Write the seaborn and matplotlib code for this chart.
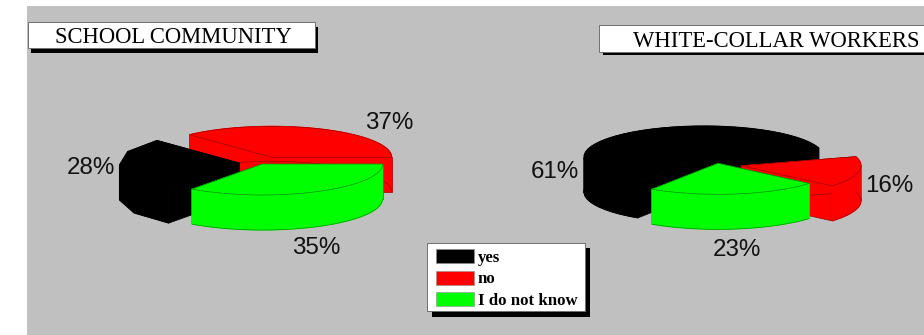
import numpy as np
import matplotlib
matplotlib.use("Agg")
import matplotlib.pyplot as plt
from matplotlib.patches import Rectangle, Polygon
import seaborn as sns

CATEGORIES = ["yes", "no", "I do not know"]
SCHOOL_VALUES = [28, 37, 35]
WHITE_COLLAR_VALUES = [61, 16, 23]
SCHOOL_TITLE = "SCHOOL COMMUNITY"
WHITE_COLLAR_TITLE = "WHITE-COLLAR WORKERS"

sns.set_theme(style="white")
palette = sns.color_palette(["#000000", "#ff0000", "#00ff00"])
edges = ["#000000", "#a00000", "#009000"]
GREY = "#c0c0c0"
RX, RY, DEPTH = 120, 31, 35

fig = plt.figure(figsize=(9.24, 3.35), dpi=100, facecolor="white")
ax = fig.add_axes([0, 0, 1, 1])
ax.set_xlim(0, 924)
ax.set_ylim(335, 0)
ax.axis("off")

ax.add_patch(Rectangle((27, 6), 900, 330, fc=GREY, ec="none", zorder=0))


def arc(cx, cy, a0, a1, n):
    t = np.radians(np.linspace(a0, a1, n + 1))
    return np.column_stack([cx + RX * np.cos(t), cy - RY * np.sin(t)])


def wedge(cx, cy, a0, a1, color, edge, n, z):
    top = arc(cx, cy, a0, a1, n)
    low = top + [0, DEPTH]
    c = np.array([cx, cy])
    lw = 0.5
    for p in (top[0], top[-1]):
        wall = [c, p, p + [0, DEPTH], c + [0, DEPTH]]
        ax.add_patch(Polygon(wall, closed=True, fc=color, ec=edge, lw=lw, zorder=z))
    # outer wall, split where the arc turns back in x so each band is a simple polygon
    cuts = sorted({0, n, int(np.argmin(top[:, 0])), int(np.argmax(top[:, 0]))})
    for i0, i1 in zip(cuts[:-1], cuts[1:]):
        band = np.vstack([top[i0:i1 + 1], low[i0:i1 + 1][::-1]])
        ax.add_patch(Polygon(band, closed=True, fc=color, ec=color, lw=0.8, zorder=z + 0.05))
    ax.plot(low[:, 0], low[:, 1], color=edge, lw=lw, zorder=z + 0.06, solid_capstyle="butt")
    ax.add_patch(Polygon(np.vstack([c, top]), closed=True, fc=color, ec=edge, lw=lw, zorder=z + 0.1))


def pie3d(values, start, centers, order, segs):
    # counter-clockwise sequence is yes, I do not know, no
    seq = [0, 2, 1]
    ang = start
    spans = {}
    for i in seq:
        spans[i] = (ang, ang + values[i] * 3.6)
        ang += values[i] * 3.6
    for rank, i in enumerate(order):
        a0, a1 = spans[i]
        wedge(*centers[i], a0, a1, palette[i], edges[i], segs[i], 2 + rank)


pie3d(SCHOOL_VALUES, 133.2,
      {0: (239.3, 163), 1: (271.7, 157.3), 2: (262.5, 164)},
      [1, 0, 2], {0: 4, 1: 60, 2: 60})
pie3d(WHITE_COLLAR_VALUES, 17,
      {0: (704, 157), 1: (741, 165.7), 2: (718, 163.3)},
      [0, 1, 2], {0: 40, 1: 40, 2: 40})

pct_font = dict(family="Liberation Sans", fontsize=17.4, color="#111111",
                ha="center", va="baseline", zorder=20)
school_pos = [(90.5, 174), (389, 129), (316.7, 254)]
white_pos = [(555.3, 178), (889.3, 192.5), (737, 256)]
for vals, pos in ((SCHOOL_VALUES, school_pos), (WHITE_COLLAR_VALUES, white_pos)):
    for v, (x, y) in zip(vals, pos):
        ax.text(x, y, f"{v}%", **pct_font)


def shadow_box(x0, y0, x1, y1, dx, dy):
    ax.add_patch(Rectangle((x0 + dx, y0 + dy), x1 - x0, y1 - y0, fc="black", ec="none", zorder=10))
    ax.add_patch(Rectangle((x0, y0), x1 - x0, y1 - y0, fc="white", ec="#707070", lw=0.7, zorder=11))


shadow_box(27.5, 21.5, 314.5, 47.5, 3.5, 5)
ax.text(173.5, 43.3, SCHOOL_TITLE, family="Liberation Serif", fontsize=16.3, color="black",
        ha="center", va="baseline", zorder=12)
shadow_box(599, 25, 940, 52, 4, 3)
ax.text(776, 47.3, WHITE_COLLAR_TITLE, family="Liberation Serif", fontsize=16.3, color="black",
        ha="center", va="baseline", zorder=12)

shadow_box(427, 242.5, 585.3, 311, 5, 5.5)
rows = [(249.3, 263.3), (270.7, 285), (291.7, 306)]
baselines = [261.7, 283.3, 305]
for i, (label, (y0, y1), b) in enumerate(zip(CATEGORIES, rows, baselines)):
    ax.add_patch(Rectangle((436, y0), 37.7, y1 - y0, fc=palette[i], ec="#909090", lw=0.4, zorder=12))
    ax.text(478, b, label, family="Liberation Serif", fontweight="bold",
            fontsize=12.1, color="black", ha="left", va="baseline", zorder=12)

fig.savefig("out.png", dpi=100, facecolor="white")
